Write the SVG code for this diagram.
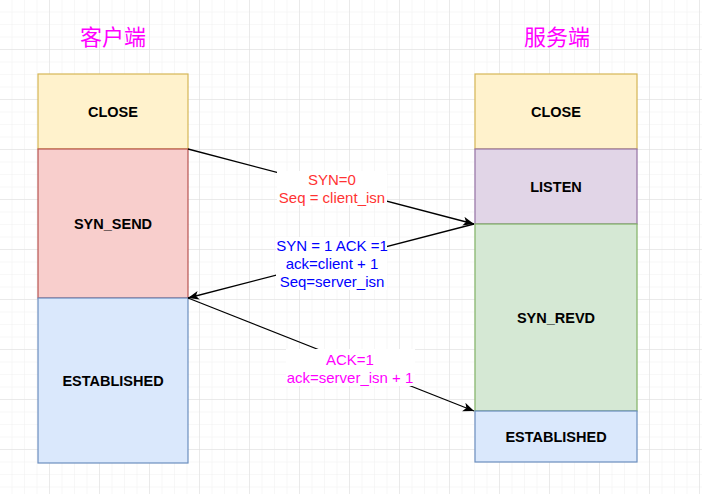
<svg xmlns="http://www.w3.org/2000/svg" width="702" height="494" viewBox="0 0 702 494">
<defs>
<pattern id="minor" width="12.5" height="12.5" patternUnits="userSpaceOnUse">
<path d="M12.5 0V12.5M0 12.5H12.5" fill="none" stroke="#f0f0f0" stroke-width="1"/>
</pattern>
<pattern id="major" width="50" height="50" patternUnits="userSpaceOnUse">
<rect width="50" height="50" fill="url(#minor)"/>
<path d="M50 0V50M0 50H50" fill="none" stroke="#dddddd" stroke-width="1"/>
</pattern>
<marker id="arr" markerWidth="12" markerHeight="10" refX="11" refY="4.5" orient="auto" markerUnits="userSpaceOnUse">
<path d="M0 0L11 4.5L0 9L2.8 4.5Z" fill="#000"/>
</marker>
</defs>
<style>
.node{stroke-width:1.2}
.close{fill:#fff2cc;stroke:#d6b656}
.red{fill:#f8cecc;stroke:#b85450}
.blue{fill:#dae8fc;stroke:#6c8ebf}
.purple{fill:#e1d5e7;stroke:#9673a6}
.green{fill:#d5e8d4;stroke:#82b366}
.nt{font-family:"Liberation Sans",Arial,sans-serif;font-size:14.5px;font-weight:bold;text-anchor:middle;fill:#000}
.lt{font-family:"Liberation Sans",Arial,sans-serif;font-size:15px;text-anchor:middle}
.title{font-family:"Noto Sans CJK SC",sans-serif;font-size:22px;text-anchor:middle;fill:#ff00ff}
.conn{stroke:#000;stroke-width:1.3;fill:none}
</style>
<rect width="702" height="494" fill="#ffffff"/>
<rect width="702" height="494" fill="url(#major)"/>

<text class="title" x="113" y="45">客户端</text>
<text class="title" x="557" y="45">服务端</text>

<g id="client-close"><rect class="node close" x="38" y="74" width="150" height="75"/><text class="nt" x="113" y="117">CLOSE</text></g>
<g id="client-syn-send"><rect class="node red" x="38" y="149" width="150" height="149"/><text class="nt" x="113" y="229">SYN_SEND</text></g>
<g id="client-established"><rect class="node blue" x="38" y="298" width="150" height="165"/><text class="nt" x="113" y="386">ESTABLISHED</text></g>

<g id="server-close"><rect class="node close" x="475" y="74" width="162" height="75"/><text class="nt" x="556" y="117">CLOSE</text></g>
<g id="server-listen"><rect class="node purple" x="475" y="149" width="162" height="75"/><text class="nt" x="556" y="192">LISTEN</text></g>
<g id="server-syn-revd"><rect class="node green" x="475" y="224" width="162" height="187"/><text class="nt" x="556" y="323">SYN_REVD</text></g>
<g id="server-established"><rect class="node blue" x="475" y="411" width="162" height="51"/><text class="nt" x="556" y="442">ESTABLISHED</text></g>

<g id="connectors">
<line class="conn" x1="188" y1="149" x2="474" y2="224" marker-end="url(#arr)"/>
<line class="conn" x1="474" y1="224" x2="188" y2="298" marker-end="url(#arr)"/>
<line class="conn" x1="188" y1="298" x2="474" y2="411" marker-end="url(#arr)"/>
</g>

<g id="labels">
<rect x="277" y="171" width="110" height="34" fill="#fff"/>
<text class="lt" x="332" y="184.5" fill="#ff3333">SYN=0</text>
<text class="lt" x="332" y="202.5" fill="#ff3333">Seq = client_isn</text>

<rect x="276" y="237" width="111" height="53" fill="#fff"/>
<text class="lt" x="332" y="250.5" fill="#0000ff">SYN = 1 ACK =1</text>
<text class="lt" x="332" y="268.5" fill="#0000ff">ack=client + 1</text>
<text class="lt" x="332" y="286.5" fill="#0000ff">Seq=server_isn</text>

<rect x="286" y="349" width="129" height="37" fill="#fff"/>
<text class="lt" x="350" y="364.5" fill="#ff00ff">ACK=1</text>
<text class="lt" x="350" y="382.5" fill="#ff00ff">ack=server_isn + 1</text>
</g>
</svg>
